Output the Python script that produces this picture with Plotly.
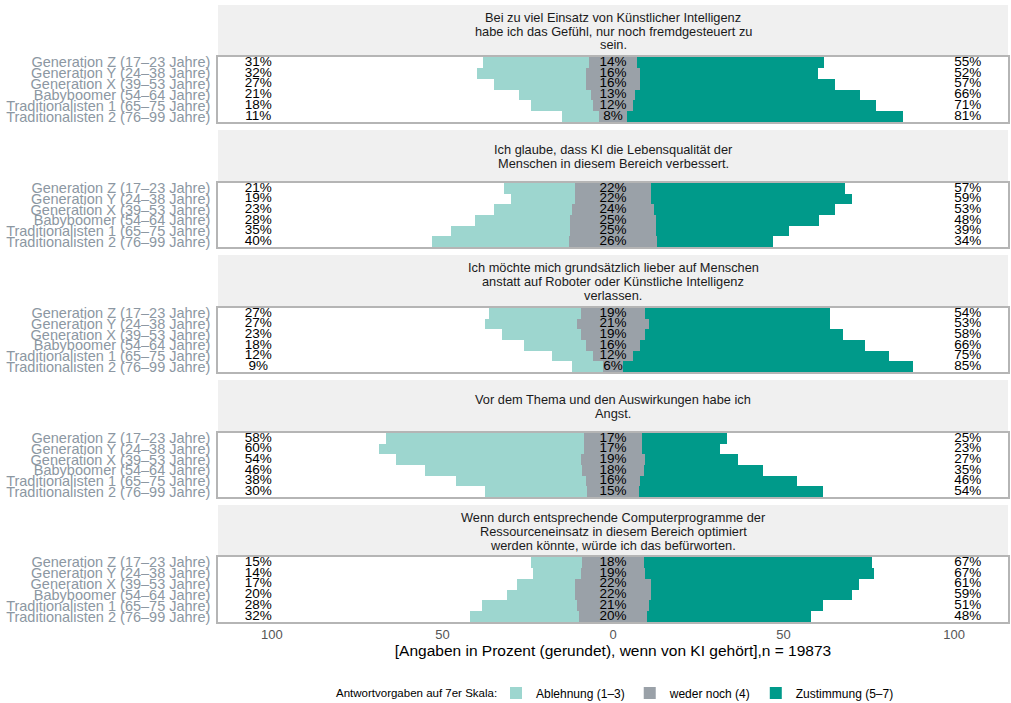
import plotly.graph_objects as go

# ---------------- data ----------------
groups = [
    "Generation Z (17–23 Jahre)",
    "Generation Y (24–38 Jahre)",
    "Generation X (39–53 Jahre)",
    "Babyboomer (54–64 Jahre)",
    "Traditionalisten 1 (65–75 Jahre)",
    "Traditionalisten 2 (76–99 Jahre)",
]

questions = [
    ["Bei zu viel Einsatz von Künstlicher Intelligenz",
     "habe ich das Gefühl, nur noch fremdgesteuert zu", "sein."],
    ["Ich glaube, dass KI die Lebensqualität der",
     "Menschen in diesem Bereich verbessert."],
    ["Ich möchte mich grundsätzlich lieber auf Menschen",
     "anstatt auf Roboter oder Künstliche Intelligenz", "verlassen."],
    ["Vor dem Thema und den Auswirkungen habe ich", "Angst."],
    ["Wenn durch entsprechende Computerprogramme der",
     "Ressourceneinsatz in diesem Bereich optimiert",
     "werden könnte, würde ich das befürworten."],
]

ablehnung_q1 = [31, 32, 27, 21, 18, 11]
neutral_q1 = [14, 16, 16, 13, 12, 8]
zustimmung_q1 = [55, 52, 57, 66, 71, 81]

ablehnung_q2 = [21, 19, 23, 28, 35, 40]
neutral_q2 = [22, 22, 24, 25, 25, 26]
zustimmung_q2 = [57, 59, 53, 48, 39, 34]

ablehnung_q3 = [27, 27, 23, 18, 12, 9]
neutral_q3 = [19, 21, 19, 16, 12, 6]
zustimmung_q3 = [54, 53, 58, 66, 75, 85]

ablehnung_q4 = [58, 60, 54, 46, 38, 30]
neutral_q4 = [17, 17, 19, 18, 16, 15]
zustimmung_q4 = [25, 23, 27, 35, 46, 54]

ablehnung_q5 = [15, 14, 17, 20, 28, 32]
neutral_q5 = [18, 19, 22, 22, 21, 20]
zustimmung_q5 = [67, 67, 61, 59, 51, 48]

series = [
    (ablehnung_q1, neutral_q1, zustimmung_q1),
    (ablehnung_q2, neutral_q2, zustimmung_q2),
    (ablehnung_q3, neutral_q3, zustimmung_q3),
    (ablehnung_q4, neutral_q4, zustimmung_q4),
    (ablehnung_q5, neutral_q5, zustimmung_q5),
]

legend_names = ["Ablehnung (1–3)", "weder noch (4)", "Zustimmung (5–7)"]
legend_title = "Antwortvorgaben auf 7er Skala:"
x_tickvals = [-100, -50, 0, 50, 100]
x_ticktext = ["100", "50", "0", "50", "100"]

# ---------------- style ----------------
W, H = 1011, 703
C_ABL = "#9DD6CF"
C_NEU = "#9AA1A8"
C_ZUS = "#009A8A"
STRIP_BG = "#F0F0F0"
BORDER = "#B5B5B5"
FONT = "Liberation Sans, Arial, sans-serif"

px_left, px_right = 218, 1008
panels_px = [(57, 122), (183, 247), (308, 372), (433, 497), (557, 622)]
strips_px = [(5, 57), (130, 183), (255, 308), (380, 433), (505, 557)]
STRIP_LINE = 14.0

def py(p):
    return 1 - p / H

xdom = [px_left / W, px_right / W]
XR = [-115.8, 115.8]

fig = go.Figure()
shapes = []
annotations = []

for i, (abl, neu, zus) in enumerate(series):
    k = "" if i == 0 else str(i + 1)
    xa, ya = "x" + k, "y" + k
    neu_base = [-n / 2 for n in neu]
    abl_base = [-n / 2 - a for a, n in zip(abl, neu)]
    zus_base = [n / 2 for n in neu]
    for vals, base, col, name in [
        (abl, abl_base, C_ABL, legend_names[0]),
        (neu, neu_base, C_NEU, legend_names[1]),
        (zus, zus_base, C_ZUS, legend_names[2]),
    ]:
        fig.add_trace(go.Bar(
            y=groups, x=vals, base=base, orientation="h",
            marker=dict(color=col, line=dict(width=0)),
            width=1.0, name=name, legendgroup=name,
            showlegend=(i == 0), xaxis=xa, yaxis=ya,
            hoverinfo="skip",
        ))
    for xpos, vals in [(-104, abl), (0, neu), (104, zus)]:
        fig.add_trace(go.Scatter(
            x=[xpos] * len(groups), y=groups, mode="text",
            text=[f"{v}%" for v in vals],
            textposition="middle center",
            textfont=dict(size=13.5, color="#000000", family=FONT),
            showlegend=False, xaxis=xa, yaxis=ya, hoverinfo="skip",
        ))

    top, bot = panels_px[i]
    ydom = [py(bot), py(top)]
    fig.layout["xaxis" + k] = dict(
        domain=xdom, anchor=ya, range=XR, showgrid=False, zeroline=False,
        showline=True, mirror=True, linecolor=BORDER, linewidth=1.5,
        tickvals=x_tickvals, ticktext=x_ticktext,
        showticklabels=(i == 4), ticks="", automargin=False,
        tickfont=dict(size=13, color="#555555", family=FONT),
        **({} if i == 0 else {"matches": "x"}),
    )
    fig.layout["yaxis" + k] = dict(
        domain=ydom, anchor=xa, type="category",
        categoryorder="array", categoryarray=groups,
        tickmode="array", tickvals=groups, ticktext=groups,
        range=[len(groups) - 0.5, -0.5],
        showgrid=False, zeroline=False, automargin=False,
        showline=True, mirror=True, linecolor=BORDER, linewidth=1.5,
        ticks="", ticklabelstandoff=3,
        tickfont=dict(size=14.5, color="#8C97A2", family=FONT),
    )

    st, sb = strips_px[i]
    shapes.append(dict(
        type="rect", xref="paper", yref="paper",
        x0=xdom[0], x1=xdom[1], y0=py(sb), y1=py(st),
        fillcolor=STRIP_BG, line=dict(width=0), layer="below",
    ))
    lines = questions[i]
    mid = (st + sb) / 2
    for j, line in enumerate(lines):
        ypix = mid + (j - (len(lines) - 1) / 2) * STRIP_LINE
        annotations.append(dict(
            xref="paper", yref="paper", x=613 / W, y=py(ypix),
            text=line, showarrow=False, align="center",
            xanchor="center", yanchor="middle",
            font=dict(size=12.8, color="#1A1A1A", family=FONT),
        ))

# legend title placed next to the legend items
annotations.append(dict(
    xref="paper", yref="paper", x=499 / W, y=py(693),
    text=legend_title, showarrow=False,
    xanchor="right", yanchor="middle",
    font=dict(size=11.5, color="#000000", family=FONT),
))

fig.layout.xaxis5.title = dict(
    text="[Angaben in Prozent (gerundet), wenn von KI gehört],n = 19873",
    font=dict(size=15.5, color="#000000", family=FONT), standoff=4,
)

fig.update_layout(
    width=W, height=H,
    margin=dict(l=0, r=0, t=0, b=0, autoexpand=False),
    paper_bgcolor="white", plot_bgcolor="white",
    barmode="overlay", bargap=0,
    shapes=shapes, annotations=annotations,
    font=dict(family=FONT),
    legend=dict(
        orientation="h", x=496 / W, xanchor="left", y=py(693), yanchor="middle",
        font=dict(size=12, color="#000000", family=FONT),
        traceorder="normal", itemwidth=30,
    ),
)

fig.write_html(
    "out.html",
    config={"displayModeBar": False},
    post_script="document.body.style.margin='0';document.body.style.overflow='hidden';",
)
